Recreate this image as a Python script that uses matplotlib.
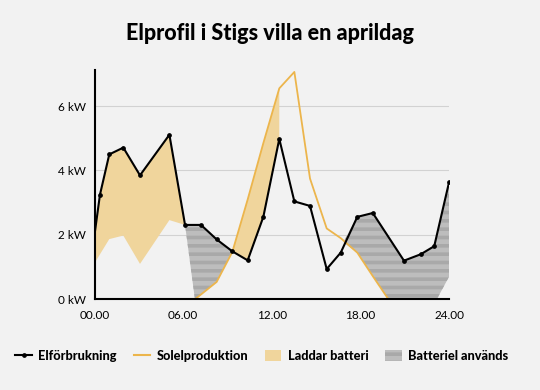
import matplotlib
matplotlib.use("Agg")
import matplotlib.pyplot as plt
from matplotlib.lines import Line2D
from matplotlib.patches import Patch

# timmar (0-24) och effekt i kW
cons_h = [0, 0.37, 1.0, 1.95, 3.08, 5.07, 6.13, 7.21, 8.27, 9.33, 10.37, 11.43,
          12.51, 13.53, 14.59, 15.72, 16.67, 17.79, 18.84, 20.95, 22.09, 23.0, 24.0]
cons_kw = [2.0, 3.25, 4.5, 4.71, 3.85, 5.11, 2.31, 2.31, 1.86, 1.49, 1.21, 2.56,
           4.98, 3.04, 2.90, 0.94, 1.45, 2.56, 2.68, 1.20, 1.40, 1.65, 3.63]

sol_h = [6.8, 8.27, 9.33, 10.37, 11.43, 12.51, 13.53, 14.59, 15.72, 16.67, 17.79, 18.84, 19.9]
sol_kw = [0, 0.54, 1.47, 3.1, 4.85, 6.55, 7.06, 3.75, 2.2, 1.9, 1.45, 0.72, 0]

# ytor: övre kant (framåt) och nedre kant (framåt)
chg1_top_h = [0, 0.37, 1.0, 1.95, 3.08, 5.07, 6.13]
chg1_top = [2.0, 3.25, 4.5, 4.71, 3.85, 5.11, 2.31]
chg1_bot_h = [0, 1.0, 1.95, 3.08, 5.07, 6.13]
chg1_bot = [1.12, 1.87, 1.98, 1.1, 2.46, 2.31]

chg2_top_h = [9.33, 10.37, 11.43, 12.51]
chg2_top = [1.47, 3.1, 4.85, 6.55]
chg2_bot_h = [9.33, 10.37, 11.43, 12.51]
chg2_bot = [1.49, 1.21, 2.56, 4.98]

bat1_top_h = [6.13, 7.21, 8.27, 9.33]
bat1_top = [2.31, 2.31, 1.86, 1.49]
bat1_bot_h = [6.13, 6.8, 8.27, 9.33]
bat1_bot = [2.31, 0, 0.54, 1.47]

bat2_top_h = [16.85, 17.79, 18.84, 20.95, 22.09, 23.0, 24.0]
bat2_top = [1.78, 2.56, 2.68, 1.20, 1.40, 1.65, 3.63]
bat2_bot_h = [16.85, 17.79, 18.84, 19.9, 23.17, 24.0]
bat2_bot = [1.78, 1.45, 0.72, 0, 0, 0.7]

x_ticks = [0, 6, 12, 18, 24]
x_labels = ["00.00", "06.00", "12.00", "18.00", "24.00"]
y_ticks = [0, 2, 4, 6]
y_labels = ["0 kW", "2 kW", "4 kW", "6 kW"]

BG = "#f2f2f2"
ORANGE = "#ecb54c"
ORANGE_FILL = "#f0d59c"
GREY = "#bdbdbd"
GREY_HATCH = "#a9a9a9"

plt.rcParams["font.family"] = ["Lato", "DejaVu Sans"]
plt.rcParams["hatch.linewidth"] = 2.6
plt.rcParams["hatch.color"] = GREY_HATCH

fig = plt.figure(figsize=(5.4, 3.9), dpi=100, facecolor=BG)
ax = fig.add_axes([0.175, 0.2325, 0.6565, 0.588])
ax.set_facecolor(BG)


def poly(top_h, top, bot_h, bot):
    return list(top_h) + list(bot_h)[::-1], list(top) + list(bot)[::-1]


for th, t, bh, b in [(chg1_top_h, chg1_top, chg1_bot_h, chg1_bot),
                     (chg2_top_h, chg2_top, chg2_bot_h, chg2_bot)]:
    xs, ys = poly(th, t, bh, b)
    ax.fill(xs, ys, color=ORANGE_FILL, lw=0, zorder=1)

for th, t, bh, b in [(bat1_top_h, bat1_top, bat1_bot_h, bat1_bot),
                     (bat2_top_h, bat2_top, bat2_bot_h, bat2_bot)]:
    xs, ys = poly(th, t, bh, b)
    ax.fill(xs, ys, facecolor=GREY, edgecolor=GREY_HATCH, hatch="--", lw=0, zorder=1)

ax.plot(sol_h, sol_kw, color=ORANGE, lw=1.3, zorder=2)
ax.plot(cons_h, cons_kw, color="black", lw=1.5, marker="o", ms=2.4,
        markevery=list(range(1, len(cons_h))), zorder=3)

ax.set_xlim(0, 24)
ax.set_ylim(0, 7.12)
ax.set_xticks(x_ticks)
ax.set_xticklabels(x_labels)
ax.set_yticks(y_ticks)
ax.set_yticklabels(y_labels)
ax.tick_params(length=0, labelsize=8.5)
ax.tick_params(axis="x", pad=8)
ax.tick_params(axis="y", pad=6)
ax.grid(axis="y", color="#d2d2d2", lw=0.8)
ax.set_axisbelow(True)
for s in ["top", "right"]:
    ax.spines[s].set_visible(False)
for s in ["left", "bottom"]:
    ax.spines[s].set_linewidth(1.5)
    ax.spines[s].set_zorder(4)

fig.text(0.5, 0.913, "Elprofil i Stigs villa en aprildag", ha="center", va="center",
         fontsize=15.5, fontweight=900)

handles = [
    Line2D([], [], color="black", lw=1.5, marker="o", ms=2.4),
    Line2D([], [], color=ORANGE, lw=1.5),
    Patch(facecolor=ORANGE_FILL, lw=0),
    Patch(facecolor=GREY, edgecolor=GREY_HATCH, hatch="--", lw=0),
]
labels = ["Elförbrukning", "Solelproduktion", "Laddar batteri", "Batteriel används"]
fig.legend(handles, labels, loc="center", bbox_to_anchor=(0.485, 0.088), ncol=4,
           frameon=False, handlelength=1.3, handleheight=0.9, handletextpad=0.5,
           columnspacing=1.3, prop={"weight": 900, "size": 9.2})

fig.savefig("out.png", dpi=100, facecolor=BG)
